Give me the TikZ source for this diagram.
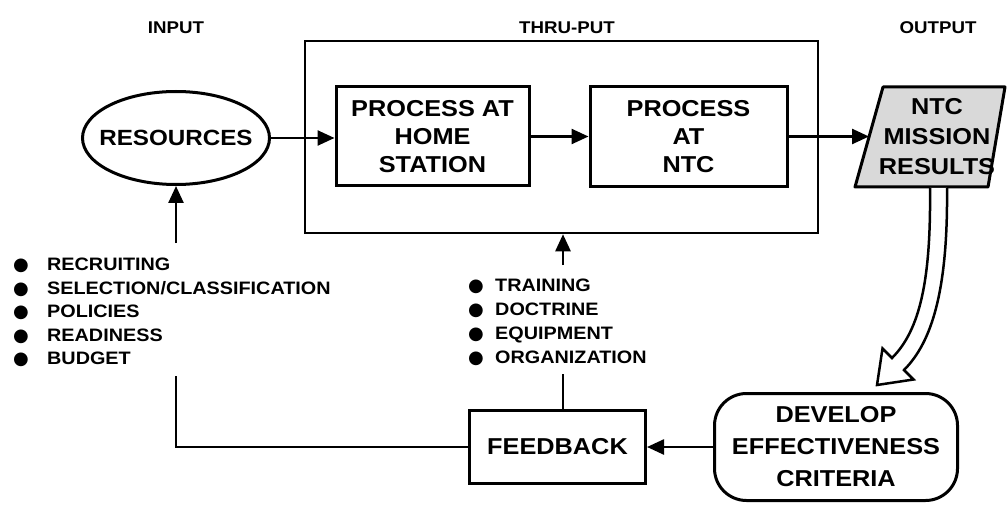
\documentclass[tikz,border=0pt]{standalone}
\usepackage{fontspec}
\setmainfont{Liberation Sans}[FakeStretch=1.1]
\newfontfamily\dotfont{DejaVu Sans}
\usepackage{tikz}
\usetikzlibrary{arrows.meta, positioning, shapes.geometric}
\tikzset{
    >={Triangle[length=17pt,width=15pt]}, % filled triangle heads
    block/.style={draw, line width=3pt, align=center,
        font=\fontsize{23}{28}\selectfont\bfseries}, % the process boxes
    flow/.style={line width=2.5pt}, % plain connectors
    head/.style={font=\fontsize{17}{20}\selectfont\bfseries}, % column titles
    item/.style={anchor=base west, inner sep=0pt,
        font=\fontsize{18}{22}\selectfont\bfseries}, % bullet lines
}
\newcommand{\bul}[1]{\makebox[#1][l]{\dotfont ●}}

\begin{document}
\begin{tikzpicture}[x=1pt, y=-1pt]
    \useasboundingbox (0,0) rectangle (1008,521);

    % column titles
    \node[head] at (176,28) (hin) {INPUT};
    \node[head] at (567,28) (hthru) {THRU-PUT};
    \node[head] at (938,28) (hout) {OUTPUT};

    % thru-put frame and its two boxes
    \node[draw, line width=2.5pt, minimum width=513pt, minimum height=192pt]
        at (561.5,137) (thru) {};
    \node[block, minimum width=193pt, minimum height=99pt]
        at (432.5,136.5) (home) {PROCESS AT\\HOME\\STATION};
    \node[block, minimum width=197pt, minimum height=100pt, right=58pt of home]
        (ntcproc) {PROCESS\\AT\\NTC};

    % input
    \node[ellipse, draw, line width=3pt, inner sep=0pt,
        minimum width=187pt, minimum height=93pt,
        font=\fontsize{22}{26}\selectfont\bfseries]
        at (176,138) (res) {\makebox[0pt]{RESOURCES}};

    % output
    \draw[line width=3pt, fill=gray!30, line join=round]
        (883,87) -- (1005,87) -- (988,187) -- (855,187) -- cycle;
    \node[align=center, font=\fontsize{23}{30}\selectfont\bfseries]
        at (937,137) (result) {NTC\\MISSION\\RESULTS};
    \coordinate (resin) at (869,138);

    % hollow arrow down to the criteria
    \draw[line width=2.5pt, fill=white, line join=miter]
        (930,188) .. controls (931,280) and (920,330) .. (892,358)
        -- (882.5,348.5) -- (877,385) -- (913.5,379.5) -- (904,370)
        .. controls (932,342) and (948,290) .. (947,188);

    \node[block, rounded corners=32pt, minimum width=243pt, minimum height=107pt,
        font=\fontsize{23}{32}\selectfont\bfseries]
        at (836,447) (develop) {DEVELOP\\EFFECTIVENESS\\CRITERIA};
    \node[block, minimum width=176pt, minimum height=73pt, left=66pt of develop]
        (feedback) {FEEDBACK};

    % bullet lists
    \foreach \txt [count=\i] in {RECRUITING, SELECTION/CLASSIFICATION,
            POLICIES, READINESS, BUDGET}
        \node[item] at (13,{270.5+23.5*(\i-1)}) (in\i) {\bul{34pt}\txt};
    \foreach \txt [count=\i] in {TRAINING, DOCTRINE, EQUIPMENT, ORGANIZATION}
        \node[item] at (468,{291.5+24*(\i-1)}) (tp\i) {\bul{27pt}\txt};

    \coordinate (intop) at (176,243);
    \coordinate (inbot) at (176,376);
    \coordinate (thrutop) at (563,265);
    \coordinate (thrubot) at (563,374);

    % connectors
    \draw[flow, ->] (res.east) -- (res.east -| home.west);
    \draw[flow, ->] (home) -- (ntcproc);
    \draw[flow, ->] (ntcproc.east) -- (ntcproc.east -| resin);
    \draw[flow, ->] (intop) -- (res.south);
    \draw[flow, ->] (thrutop) -- (thrutop |- thru.south);
    \draw[flow, ->] (develop) -- (feedback);
    \draw[flow] (feedback.west) -| (inbot);
    \draw[flow] (feedback.north -| thrubot) -- (thrubot);
\end{tikzpicture}
\end{document}
